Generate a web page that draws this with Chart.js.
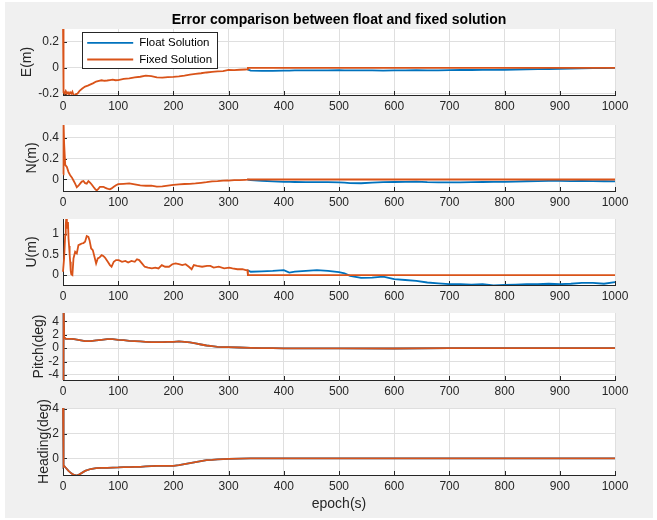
<!DOCTYPE html>
<html><head><meta charset="utf-8">
<script src="https://cdn.jsdelivr.net/npm/chart.js@4.4.1/dist/chart.umd.min.js"></script>
<style>
html,body{margin:0;padding:0;background:#ffffff;}
body{width:657px;height:520px;position:relative;overflow:hidden;}
#fig{position:absolute;left:5px;top:2px;width:648px;height:516px;background:#f0f0f0;}
canvas{position:absolute;left:0;}
</style></head><body>
<div id="fig"></div>
<canvas id="cE" width="657" height="117" style="top:0px;width:657px;height:117px"></canvas>
<canvas id="cN" width="657" height="100" style="top:113px;width:657px;height:100px"></canvas>
<canvas id="cU" width="657" height="100" style="top:207px;width:657px;height:100px"></canvas>
<canvas id="cP" width="657" height="101" style="top:301px;width:657px;height:101px"></canvas>
<canvas id="cH" width="657" height="124" style="top:396px;width:657px;height:124px"></canvas>
<script>
// ---------------- data ----------------
const chartTitle = 'Error comparison between float and fixed solution';
const seriesNames = ['Float Solution', 'Fixed Solution'];
const xTicks = [0,100,200,300,400,500,600,700,800,900,1000];

// East error (m)
const epochsE = [0,1,3,5,7,9,11,13,15,17,19,21,23,26,30,35,40,45,50,55,60,65,70,75,80,85,90,95,100,110,120,130,140,150,160,170,180,190,200,210,220,230,240,250,260,270,280,290,300,310,320,330,334,335,1000];
const fixedE = [0.35,-0.19,-0.2,-0.18,-0.2,-0.19,-0.205,-0.19,-0.2,-0.185,-0.21,-0.215,-0.205,-0.2,-0.178,
  -0.16,-0.145,-0.138,-0.128,-0.118,-0.106,-0.1,-0.096,-0.1,-0.098,-0.095,-0.092,-0.096,-0.095,
  -0.086,-0.081,-0.074,-0.069,-0.06,-0.064,-0.074,-0.076,-0.072,-0.07,-0.066,-0.06,-0.052,-0.047,-0.042,-0.036,-0.031,-0.027,-0.025,-0.016,-0.018,-0.015,-0.013,
  -0.012,0,0];

// North error (m)
const epochsN = [0,1,2,4,7,10,13,16,19,22,25,28,31,34,37,40,43,46,49,52,55,58,61,64,67,70,73,76,79,82,85,88,92,96,100,110,120,130,140,150,160,170,180,190,200,210,220,230,240,250,260,270,280,290,300,310,320,330,334,335,1000];
const fixedN = [0.05,0.55,0.35,0.14,0.12,
  0.07,0.04,0.02,-0.01,-0.04,-0.075,-0.06,-0.04,-0.02,-0.015,-0.035,-0.04,-0.015,-0.03,-0.048,-0.07,-0.09,-0.105,-0.09,-0.07,-0.07,-0.07,-0.078,-0.085,-0.09,-0.093,-0.085,
  -0.07,-0.055,-0.045,
  -0.042,-0.038,-0.047,-0.056,-0.06,-0.058,-0.068,-0.066,-0.058,-0.052,-0.046,-0.043,-0.042,-0.038,-0.032,-0.026,-0.018,-0.016,-0.011,-0.01,-0.007,-0.006,-0.003,
  -0.002,0,0];

// Up error (m)
const epochsU = [0,2,4,5,6,7,8,9,10,11,12,13,14,15,17,19,22,25,28,31,34,37,40,43,46,48,51,54,57,60,63,66,70,73,76,79,82,85,88,92,96,101,107,113,118,124,130,134,138,143,148,154,161,167,173,179,185,192,198,204,210,216,222,228,233,237,243,252,261,267,273,282,292,301,307,316,325,331,334,335,1000];
const fixedU = [0.08,0.4,0.96,1.2,1.4,1.12,1.2,1.28,0.88,0.7,0.5,0.32,0.1,0.02,0,0.4,0.56,0.52,0.72,0.74,
  0.76,0.77,0.8,0.94,0.92,0.84,0.64,0.6,0.44,0.28,0.4,0.42,0.48,0.46,0.42,0.36,0.3,0.24,0.2,0.32,
  0.36,0.36,0.32,0.34,0.3,0.34,0.32,0.38,0.36,0.28,0.2,0.18,0.16,0.18,0.16,0.24,0.2,0.2,0.26,0.28,
  0.26,0.24,0.26,0.2,0.14,0.24,0.22,0.2,0.22,0.22,0.18,0.2,0.16,0.18,0.16,0.14,0.14,0.12,0.12,0,0];

// Float solution after the ambiguity fix (before ~335 it coincides with the fixed curve)
const floatEpochs = [334,340,360,380,400,410,420,440,460,480,500,510,520,540,560,580,600,620,640,660,680,700,720,740,760,780,800,820,840,860,880,900,920,940,960,980,1000];
const floatE = [-0.012,-0.022,-0.024,-0.023,-0.021,-0.021,-0.02,-0.019,-0.02,-0.019,-0.018,-0.019,-0.02,-0.019,-0.02,-0.021,-0.02,-0.019,-0.018,-0.02,-0.019,-0.018,-0.017,-0.017,-0.016,-0.016,-0.015,-0.013,-0.011,-0.01,-0.009,-0.007,-0.006,-0.004,-0.003,-0.002,-0.001];
const floatN = [-0.002,-0.005,-0.012,-0.018,-0.022,-0.023,-0.024,-0.026,-0.025,-0.026,-0.028,-0.031,-0.034,-0.036,-0.03,-0.026,-0.024,-0.022,-0.02,-0.026,-0.028,-0.028,-0.027,-0.025,-0.024,-0.023,-0.022,-0.02,-0.017,-0.015,-0.014,-0.014,-0.015,-0.014,-0.016,-0.017,-0.018];
const floatU = [0.12,0.08,0.09,0.1,0.12,0.06,0.08,0.1,0.12,0.1,0.07,0.04,-0.02,-0.07,-0.06,-0.04,-0.1,-0.12,-0.14,-0.18,-0.2,-0.22,-0.22,-0.23,-0.22,-0.25,-0.24,-0.23,-0.22,-0.22,-0.21,-0.22,-0.21,-0.19,-0.19,-0.21,-0.17];

// Attitude (deg) - float and fixed coincide
const epochsAtt = [0,1,2,5,10,15,20,25,30,40,50,60,70,80,90,100,110,120,130,140,150,160,170,180,190,200,210,220,230,240,250,260,270,280,290,300,320,340,360,380,400,500,600,700,800,900,1000];
const pitchDeg = [-8,8,1.6,1.4,1.4,1.38,1.35,1.28,1.2,
  1.05,1.05,1.15,1.25,1.35,1.35,1.25,1.2,1.1,1.05,
  1.0,0.95,0.9,0.9,0.9,0.95,0.95,1.0,0.95,0.85,
  0.7,0.55,0.4,0.3,0.2,0.15,0.15,
  0.1,0.05,0,0,-0.02,
  -0.02,-0.05,0,0,0,0];
const headingDeg = [4.3,-0.65,-0.6,-0.75,-1.0,-1.2,-1.33,-1.38,-1.28,
  -1.0,-0.85,-0.77,-0.75,-0.75,-0.73,-0.72,-0.7,-0.69,-0.68,
  -0.67,-0.64,-0.61,-0.6,-0.59,-0.59,-0.59,-0.53,-0.45,-0.37,
  -0.29,-0.21,-0.13,-0.11,-0.08,-0.05,-0.03,
  -0.01,0,0,0,0,
  0,0,0,0,0,0];

const yTicksE = [-0.2,0,0.2];
const yTicksN = [0,0.2,0.4];
const yTicksU = [0,0.5,1];
const yTicksP = [-4,-2,0,2,4];
const yTicksH = [0,2,4];

// ---------------- style ----------------
const FONT = "'Liberation Sans', Arial, Helvetica, sans-serif";
const BLUE = '#0072BD', ORANGE = '#D95319';
const TEXT = '#262626', GRID = '#dfdfdf';
Chart.defaults.font.family = FONT;

const plotBg = { id:'plotBg', beforeDraw(chart){
  const a = chart.chartArea, c = chart.ctx;
  c.save(); c.fillStyle = '#ffffff'; c.fillRect(a.left, a.top, a.right-a.left, a.bottom-a.top); c.restore();
}};
const inwardTicks = { id:'inwardTicks', beforeDatasetsDraw(chart){
  const {ctx, chartArea:a, scales} = chart;
  ctx.save(); ctx.strokeStyle = TEXT; ctx.lineWidth = 1; ctx.beginPath();
  scales.x.ticks.forEach(t => { const px = Math.round(scales.x.getPixelForValue(t.value)) + 0.5; ctx.moveTo(px, a.bottom); ctx.lineTo(px, a.bottom - 4); });
  scales.y.ticks.forEach(t => { const py = Math.round(scales.y.getPixelForValue(t.value)) + 0.5; ctx.moveTo(a.left, py); ctx.lineTo(a.left + 4, py); });
  ctx.stroke(); ctx.restore();
}};
const boxLegend = { id:'boxLegend', afterDatasetsDraw(chart, args, opts){
  if (!opts.show) return;
  const {ctx, chartArea:a} = chart;
  const items = chart.data.datasets.map(d => ({label:d.label, color:d.borderColor}));
  ctx.save();
  ctx.font = '11.5px ' + FONT;
  const textW = Math.max(...items.map(i => ctx.measureText(i.label).width));
  const x0 = Math.round(a.left + 19) + 0.5, y0 = Math.round(a.top + 3) + 0.5;
  const padL = 4.7, lineW = 46, gap = 6, padR = 5, rowH = 16.6;
  const w = Math.round(padL + lineW + gap + textW + padR), h = 36;
  ctx.fillStyle = '#ffffff'; ctx.fillRect(x0, y0, w, h);
  ctx.strokeStyle = TEXT; ctx.lineWidth = 1; ctx.strokeRect(x0, y0, w, h);
  items.forEach((it, i) => {
    const y = y0 + 10.4 + i*rowH;
    ctx.strokeStyle = it.color; ctx.lineWidth = 1.8;
    ctx.beginPath(); ctx.moveTo(x0 + padL, y); ctx.lineTo(x0 + padL + lineW, y); ctx.stroke();
    ctx.fillStyle = '#000000'; ctx.textBaseline = 'middle'; ctx.textAlign = 'left';
    ctx.fillText(it.label, x0 + padL + lineW + gap, y);
  });
  ctx.restore();
}};

function pts(xs, ys){ return xs.map((x, i) => ({x:x, y:ys[i]})); }
const CLIP = { left:2, right:1, top:0, bottom:0 };

function makePlot(id, p){
  return new Chart(document.getElementById(id), {
    type:'line',
    data:{ datasets:[
      { label:seriesNames[0], data:pts(p.floatX, p.floatY), borderColor:BLUE, backgroundColor:BLUE, borderWidth:1.8, pointRadius:0, tension:0, order:1, clip:CLIP },
      { label:seriesNames[1], data:pts(p.fixedX, p.fixedY), borderColor:ORANGE, backgroundColor:ORANGE, borderWidth:1.8, pointRadius:0, tension:0, order:0, clip:CLIP }
    ]},
    options:{
      responsive:false, animation:false, devicePixelRatio:1, events:[],
      layout:{ padding:{ left:0, right:42, top:p.padTop, bottom:0 } },
      plugins:{
        legend:{ display:false }, tooltip:{ enabled:false },
        title: p.title ? { display:true, text:p.title, color:'#000000', fullSize:false,
                 font:{ size:14, weight:'bold', family:FONT }, padding:{ top:12.1, bottom:0.1 } } : { display:false },
        boxLegend:{ show: !!p.legend }
      },
      scales:{
        x:{ type:'linear', min:0, max:1000,
            afterBuildTicks: s => { s.ticks = xTicks.map(v => ({value:v})); },
            afterFit: s => { s.height = p.xHeight; },
            grid:{ color:GRID, lineWidth:1, drawTicks:false },
            border:{ display:true, color:TEXT, width:1 },
            ticks:{ padding:4, color:TEXT, font:{ size:12 }, maxRotation:0, autoSkip:false, callback: v => String(v) },
            title: p.xTitle ? { display:true, text:p.xTitle, color:TEXT, font:{ size:14 }, padding:{ top:0, bottom:7.6 } } : { display:false } },
        y:{ type:'linear', min:p.yMin, max:p.yMax,
            afterBuildTicks: s => { s.ticks = p.yTicks.map(v => ({value:v})); },
            afterFit: s => { s.width = 63; },
            grid:{ color:GRID, lineWidth:1, drawTicks:false },
            border:{ display:true, color:TEXT, width:1 },
            ticks:{ padding:4, color:TEXT, font:{ size:12 }, autoSkip:false, callback: v => String(v) },
            title:{ display:true, text:p.yLabel, color:TEXT, font:{ size:14 }, padding:{ top:p.yTitlePad, bottom:0 } } }
      }
    },
    plugins:[plotBg, inwardTicks, boxLegend]
  });
}

makePlot('cE', { floatX:floatEpochs, floatY:floatE, fixedX:epochsE, fixedY:fixedE, yMin:-0.21, yMax:0.3, yTicks:yTicksE,
  yLabel:'E(m)', yTitlePad:19.1, padTop:0, xHeight:22, title:chartTitle, legend:true });
makePlot('cN', { floatX:floatEpochs, floatY:floatN, fixedX:epochsN, fixedY:fixedN, yMin:-0.11, yMax:0.52, yTicks:yTicksN,
  yLabel:'N(m)', yTitlePad:23.3, padTop:12, xHeight:22 });
makePlot('cU', { floatX:floatEpochs, floatY:floatU, fixedX:epochsU, fixedY:fixedU, yMin:-0.24, yMax:1.35, yTicks:yTicksU,
  yLabel:'U(m)', yTitlePad:24.1, padTop:12, xHeight:22 });
makePlot('cP', { floatX:epochsAtt, floatY:pitchDeg, fixedX:epochsAtt, fixedY:pitchDeg, yMin:-4.75, yMax:5.25, yTicks:yTicksP,
  yLabel:'Pitch(deg)', yTitlePad:30.6, padTop:12, xHeight:22 });
makePlot('cH', { floatX:epochsAtt, floatY:headingDeg, fixedX:epochsAtt, fixedY:headingDeg, yMin:-1.33, yMax:4.05, yTicks:yTicksH,
  yLabel:'Heading(deg)', yTitlePad:35.6, padTop:12, xHeight:45, xTitle:'epoch(s)' });
</script>
</body></html>
